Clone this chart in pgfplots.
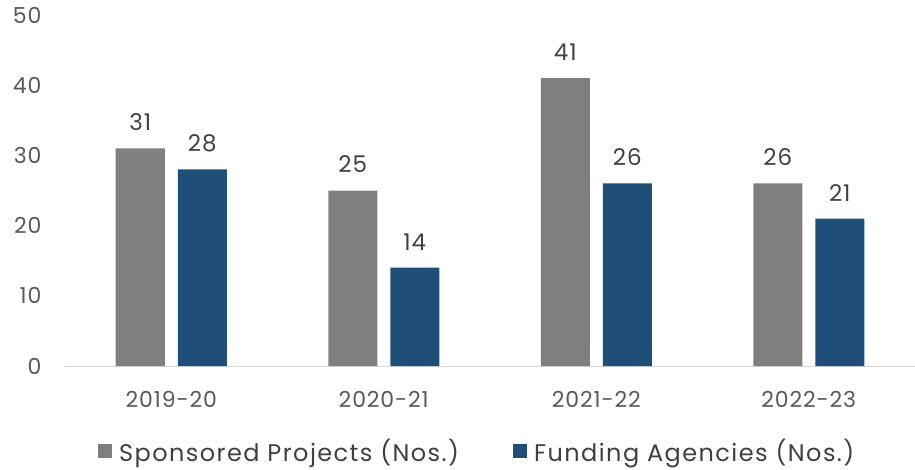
\documentclass[border=0pt]{standalone}
\usepackage{pgfplots}
\pgfplotsset{compat=1.18}
\usepackage{fontspec}
\setmainfont{Poppins}[LetterSpace=4]
\definecolor{sgray}{HTML}{7F7F7F}
\definecolor{fblue}{HTML}{1F4E79}
\definecolor{tcol}{HTML}{595959}
\definecolor{lcol}{HTML}{404040}
\definecolor{acol}{HTML}{D9D9D9}
\begin{document}
\begin{tikzpicture}
\useasboundingbox (-65pt,-103pt) rectangle (850pt,366pt);
\begin{axis}[
  scale only axis, width=850pt, height=351pt,
  xmin=-0.5, xmax=3.5, ymin=0, ymax=50,
  ybar,
  ytick={0,10,...,50},
  xtick=data, xticklabels={2019-20,2020-21,2021-22,2022-23},
  axis x line*=bottom, axis y line*=left,
  y axis line style={draw=none},
  x axis line style={draw=acol, line width=1pt},
  major tick length=0pt,
  /pgf/number format/assume math mode=true,
  ticklabel style={font=\fontsize{22}{25}\selectfont, text=tcol},
  xticklabel style={yshift=-22pt},
  yticklabel style={xshift=-20pt},
  nodes near coords,
  nodes near coords style={font=\fontsize{23}{26}\selectfont, text=lcol, yshift=14pt},
  legend style={at={(0.485,-0.242)}, anchor=center, draw=none, legend columns=2,
    font=\fontsize{24}{27}\selectfont\addfontfeatures{LetterSpace=6}, text=lcol,
    /tikz/every even column/.append style={column sep=52pt}},
  legend image code/.code={\fill[#1] (0pt,-7pt) rectangle (14pt,7pt); \path (19pt,0pt);},
]
\addplot[bar width=49pt, bar shift=-31pt, fill=sgray, draw=none] coordinates {(0,31) (1,25) (2,41) (3,26)};
\addlegendentry{Sponsored Projects (Nos.)}
\addplot[bar width=49pt, bar shift=31pt, fill=fblue, draw=none] coordinates {(0,28) (1,14) (2,26) (3,21)};
\addlegendentry{Funding Agencies (Nos.)}
\end{axis}
\end{tikzpicture}
\end{document}
